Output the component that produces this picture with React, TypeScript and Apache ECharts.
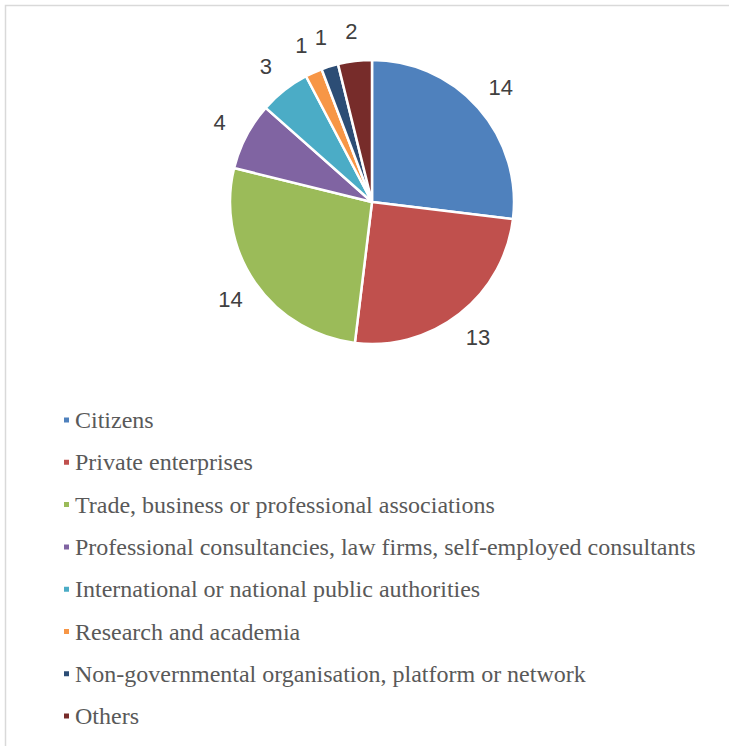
import React, { useEffect, useRef } from "react";
import * as echarts from "echarts";

const categories = [
  "Citizens",
  "Private enterprises",
  "Trade, business or professional associations",
  "Professional consultancies, law firms, self-employed consultants",
  "International or national public authorities",
  "Research and academia",
  "Non-governmental organisation, platform or network",
  "Others",
];
const values = [14, 13, 14, 4, 3, 1, 1, 2];
const colors = ["#4F81BD", "#C0504D", "#9BBB59", "#8064A2", "#4BACC6", "#F79646", "#2C4D75", "#772C2A"];

export default function App() {
  const ref = useRef<HTMLDivElement>(null);
  useEffect(() => {
    if (!ref.current) return;
    const chart = echarts.init(ref.current, undefined, { renderer: "svg" });
    const data = categories.map((name, i) => ({ name, value: values[i] }));
    chart.setOption({
      animation: false,
      backgroundColor: "#ffffff",
      color: colors,
      graphic: [
        {
          type: "rect",
          shape: { x: 5.5, y: 5.5, width: 900, height: 900 },
          style: { fill: "none", stroke: "#d9d9d9", lineWidth: 1.5 },
          silent: true,
          z: -1,
        },
      ],
      legend: {
        orient: "vertical",
        left: 57,
        top: 403,
        icon: "rect",
        itemWidth: 7,
        itemHeight: 7,
        itemGap: 18.3,
        data: categories,
        textStyle: {
          fontFamily: "'Liberation Serif', 'Times New Roman', serif",
          fontSize: 24,
          lineHeight: 24,
          color: "#595959",
        },
      },
      series: [
        {
          type: "pie",
          center: [372, 202],
          radius: [0, 142],
          startAngle: 90,
          clockwise: true,
          data,
          label: { show: false },
          labelLine: { show: false },
          itemStyle: { borderColor: "#ffffff", borderWidth: 2.5 },
          emphasis: { disabled: true },
        },
        {
          type: "pie",
          center: [372, 202],
          radius: [165, 173],
          startAngle: 90,
          clockwise: true,
          data,
          silent: true,
          legendHoverLink: false,
          itemStyle: { color: "rgba(0,0,0,0)", borderWidth: 0 },
          label: {
            show: true,
            position: "inside",
            formatter: "{c}",
            fontFamily: "'Liberation Sans', Arial, sans-serif",
            fontSize: 22,
            color: "#404040",
          },
          labelLine: { show: false },
          emphasis: { disabled: true },
        },
      ],
    });
    return () => chart.dispose();
  }, []);
  return (
    <div
      ref={ref}
      style={{ position: "fixed", left: 0, top: 0, width: 729, height: 746 }}
    />
  );
}
